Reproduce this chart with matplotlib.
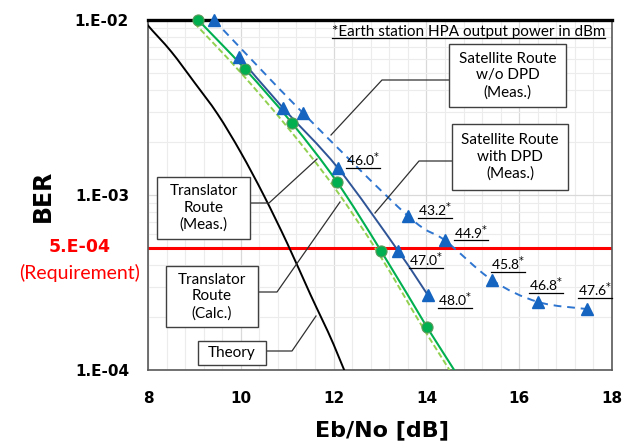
import numpy as np
import matplotlib
matplotlib.use('Agg')
import matplotlib.pyplot as plt
from matplotlib.path import Path
from matplotlib.patches import PathPatch, Rectangle
from matplotlib.lines import Line2D

# values
theory_x = [7.8, 8.0, 8.5, 9.0, 9.5, 10.0, 10.5, 11.0, 11.5, 12.0, 12.5]
theory_ber = [1.1e-2, 9.3e-3, 6.6e-3, 4.4e-3, 2.9e-3, 1.75e-3, 9.9e-4, 5.3e-4, 2.7e-4, 1.4e-4, 6.6e-5]

calc_x = [9.0, 10.0, 11.0, 12.0, 13.0, 14.0, 15.0]
calc_ber = [9.6e-3, 5.0e-3, 2.45e-3, 1.12e-3, 4.5e-4, 1.62e-4, 6.2e-5]

trans_x = [9.08, 10.09, 11.1, 12.07, 13.02, 14.01]
trans_ber = [1.0e-2, 5.25e-3, 2.58e-3, 1.19e-3, 4.8e-4, 1.76e-4]
trans_tail_x = [14.01, 15.0]
trans_tail_ber = [1.76e-4, 6.8e-5]

wo_x = [9.42, 11.34, 13.6, 14.4, 15.41, 16.4, 17.46]
wo_ber = [1.0e-2, 2.94e-3, 7.6e-4, 5.5e-4, 3.27e-4, 2.45e-4, 2.23e-4]
wo_labels = [None, None, '43.2', '44.9', '45.8', '46.8', '47.6']
wo_offsets = [None, None, (10, 6), (9, 8), (-1, 16), (-9, 17), (-9, 19)]

dpd_x = [9.96, 10.91, 12.09, 13.39, 14.03]
dpd_ber = [6.15e-3, 3.14e-3, 1.43e-3, 4.8e-4, 2.68e-4]
dpd_labels = [None, None, '46.0', '47.0', '48.0']
dpd_offsets = [None, None, (8, 8), (11, -9), (10, -5)]

req_ber = 5e-4
yticks = [1e-4, 1e-3, 1e-2]
ytick_labels = ['1.E-04', '1.E-03', '1.E-02']
xticks = [8, 10, 12, 14, 16, 18]

W, H = 638, 445
LBL = ['Lato', 'DejaVu Sans']


def px(x, y):
    return x / W, 1 - y / H


def smooth(ax, x, y, **kw):
    # Catmull-Rom style bezier through the points, in log space
    p = np.column_stack([x, np.log10(y)])
    n = len(p)
    verts = [p[0]]
    codes = [Path.MOVETO]
    for i in range(n - 1):
        p0, p1 = p[max(i - 1, 0)], p[i]
        p2, p3 = p[i + 1], p[min(i + 2, n - 1)]
        verts += [p1 + (p2 - p0) / 6, p2 - (p3 - p1) / 6, p2]
        codes += [Path.CURVE4] * 3
    verts = np.array(verts)
    verts[:, 1] = 10 ** verts[:, 1]
    ax.add_patch(PathPatch(Path(verts, codes), fill=False, transform=ax.transData, **kw))


fig = plt.figure(figsize=(W / 100, H / 100), dpi=100)
ax = fig.add_axes([148 / W, 1 - 370 / H, (612 - 148) / W, 350 / H])
ax.set_yscale('log')
ax.set_xlim(8, 18)
ax.set_ylim(1e-4, 1e-2)

ax.set_xticks(np.arange(8, 18.01, 0.4), minor=True)
ax.set_xticks(xticks)
ax.set_xticklabels([str(t) for t in xticks], fontsize=11, fontweight='bold', family='DejaVu Sans')
ax.set_yticks(yticks)
ax.set_yticklabels(ytick_labels, fontsize=11, fontweight='bold', family='DejaVu Sans')
ax.tick_params(which='both', length=0)
ax.tick_params(axis='y', pad=13.7)
ax.tick_params(axis='x', pad=15)
ax.grid(which='minor', color='#ececec', lw=0.8)
ax.grid(which='major', color='#d9d9d9', lw=0.9)
ax.set_axisbelow(True)
for s in ['left', 'right', 'bottom']:
    ax.spines[s].set_color('#595959')
    ax.spines[s].set_linewidth(1.2)
ax.spines['top'].set_color('black')
ax.spines['top'].set_linewidth(2.4)
ax.spines['top'].set_zorder(5)

ax.axhline(req_ber, color='#ff0000', lw=2.2, zorder=2)

smooth(ax, theory_x, theory_ber, color='black', lw=1.4, zorder=3)
smooth(ax, calc_x, calc_ber, color='#92d050', lw=1.4, ls=(0, (3, 1.5)), zorder=3)
smooth(ax, trans_x, trans_ber, color='#00b050', lw=1.5, zorder=3)
ax.plot(trans_tail_x, trans_tail_ber, color='#00b050', lw=1.5, zorder=3)
smooth(ax, dpd_x, dpd_ber, color='#2f5597', lw=1.4, zorder=3)
smooth(ax, wo_x, wo_ber, color='#2e75d0', lw=1.4, ls=(0, (4, 3)), zorder=3)

ax.plot(trans_x, trans_ber, 'o', ms=8, mfc='#00b050', mec='#5a9a5a', mew=0.8, zorder=6, clip_on=False)
ax.plot(wo_x, wo_ber, '^', ms=9, mfc='#1565c0', mec='#1565c0', zorder=6, clip_on=False)
ax.plot(dpd_x, dpd_ber, '^', ms=9, mfc='#1565c0', mec='#1565c0', zorder=6, clip_on=False)

under = []
for xs, ys, labs, offs in [(dpd_x, dpd_ber, dpd_labels, dpd_offsets),
                           (wo_x, wo_ber, wo_labels, wo_offsets)]:
    for x, y, lab, off in zip(xs, ys, labs, offs):
        if lab is None:
            continue
        t = ax.annotate(lab + '$^{*}$', (x, y), xytext=off, textcoords='offset pixels',
                        ha='left', va='center', fontsize=10, family=LBL, zorder=7)
        under.append(t)

fig.text(*px(382, 430), 'Eb/No [dB]', ha='center', va='center',
         fontsize=16, fontweight='bold', family='DejaVu Sans')
fig.text(*px(43, 196), 'BER', rotation=90, ha='center', va='center',
         fontsize=17, fontweight='bold', family='DejaVu Sans')
fig.text(*px(80, 247), '5.E-04', ha='center', va='center', color='#ff0000',
         fontsize=12.5, fontweight='bold', family='DejaVu Sans')
fig.text(*px(80, 273), '(Requirement)', ha='center', va='center', color='#ff0000',
         fontsize=14, family=LBL)

note = fig.text(*px(605, 32), '*Earth station HPA output power in dBm', ha='right',
                va='center', fontsize=11, family=LBL)
under.append(note)

# call-out boxes: (text, left, top, right, bottom, leader points)
boxes = [
    ('Satellite Route\nw/o DPD\n(Meas.)', 449, 44, 566, 107, [(449, 80), (382, 80), (331, 135)]),
    ('Satellite Route\nwith DPD\n(Meas.)', 452, 124, 568, 190, [(452, 161), (419, 161), (375, 213)]),
    ('Translator\nRoute\n(Meas.)', 157, 177, 250, 239, [(250, 203), (269, 203), (317, 159)]),
    ('Translator\nRoute\n(Calc.)', 166, 266, 258, 327, [(258, 292), (277, 292), (340, 202)]),
    ('Theory', 198, 341, 266, 365, [(266, 351), (292, 351), (316, 316)]),
]
for txt, l, t, r, b, lead in boxes:
    x0, y0 = px(l, b)
    x1, y1 = px(r, t)
    fig.add_artist(Rectangle((x0, y0), x1 - x0, y1 - y0, transform=fig.transFigure,
                             fc='white', ec='#404040', lw=1.0, zorder=8))
    fig.text((x0 + x1) / 2, (y0 + y1) / 2, txt, ha='center', va='center',
             fontsize=11, family=LBL, linespacing=1.25, zorder=9)
    lx = [px(*p)[0] for p in lead]
    ly = [px(*p)[1] for p in lead]
    fig.add_artist(Line2D(lx, ly, transform=fig.transFigure, color='#303030', lw=0.9, zorder=7))

# underline the value labels and the note
fig.canvas.draw()
rend = fig.canvas.get_renderer()
for t in under:
    bb = t.get_window_extent(rend)
    fig.add_artist(Line2D([bb.x0, bb.x1], [bb.y0 + 1.5, bb.y0 + 1.5], transform=None,
                          color='black', lw=0.9, zorder=9))

fig.savefig('out.png', dpi=100)
